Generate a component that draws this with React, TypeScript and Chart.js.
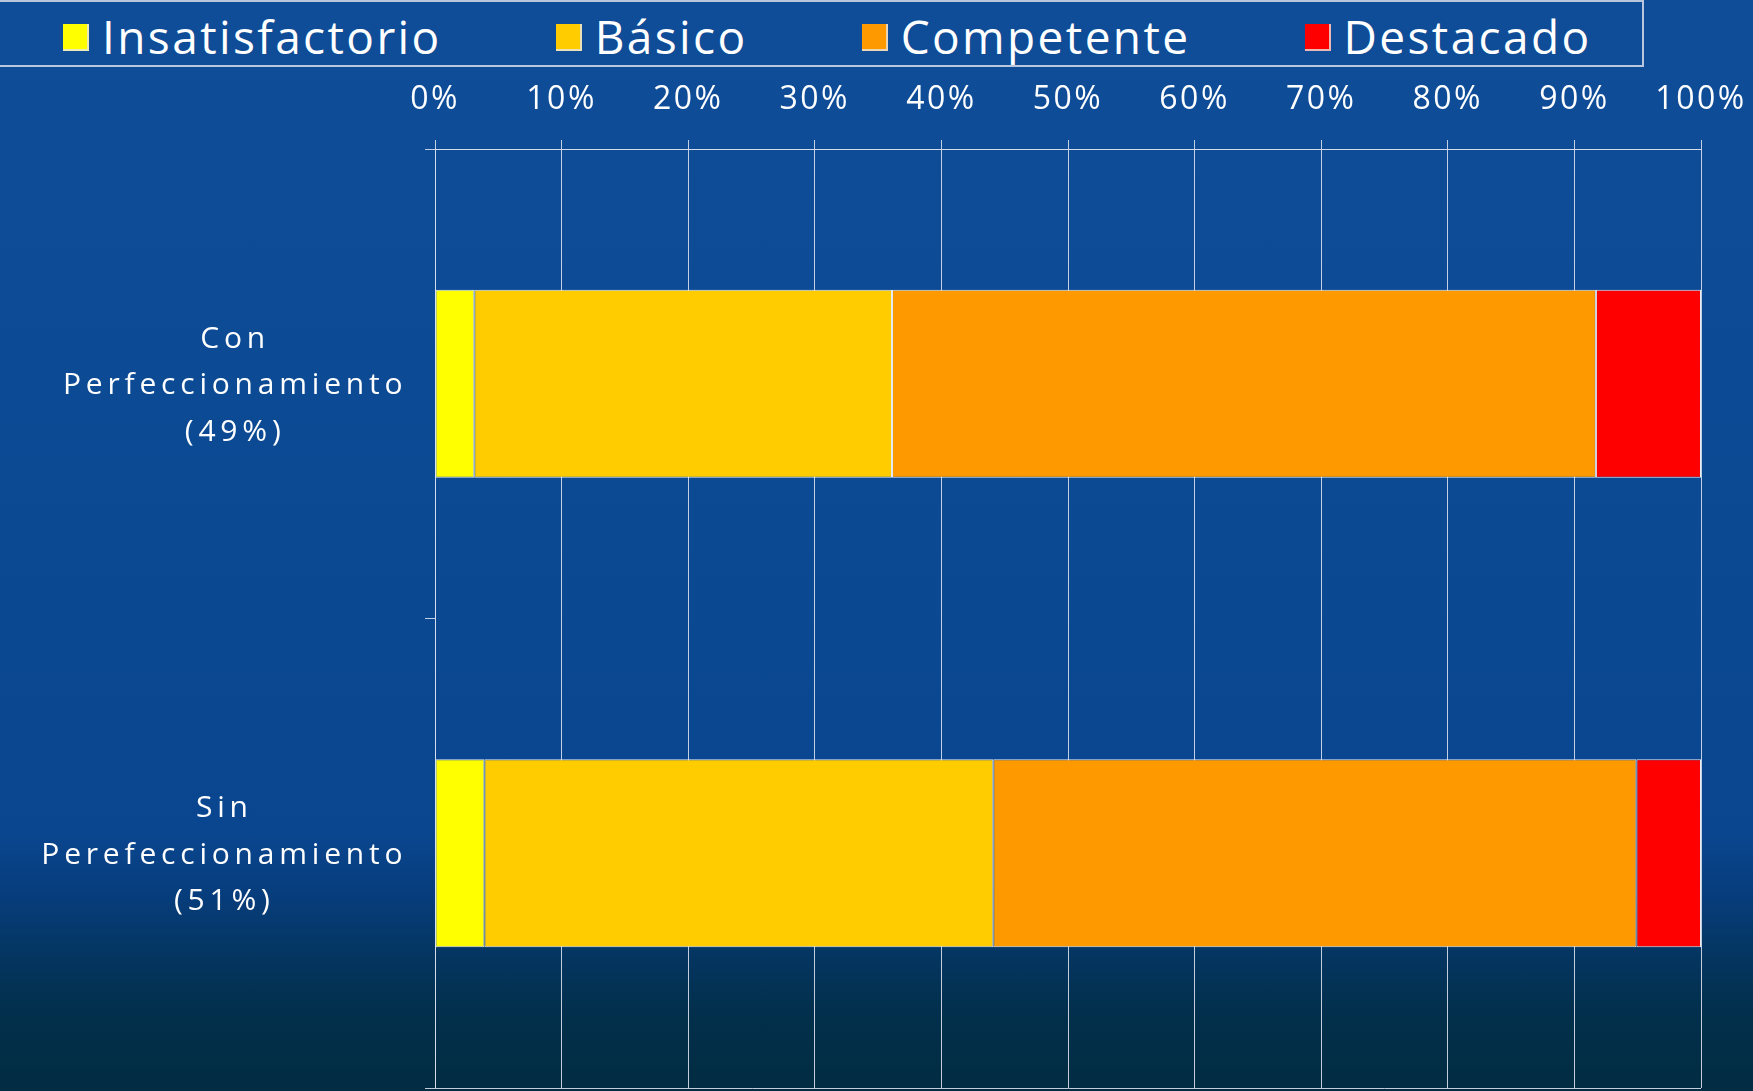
import React, { useEffect, useRef } from "react";
import { Chart, registerables } from "chart.js";

Chart.register(...registerables);

const categories: string[][] = [
  ["Con", "Perfeccionamiento", "(49%)"],
  ["Sin", "Perefeccionamiento", "(51%)"],
];
const seriesNames = ["Insatisfactorio", "Básico", "Competente", "Destacado"];
const insatisfactorio = [3.1, 3.9];
const basico = [33.0, 40.2];
const competente = [55.6, 50.8];
const destacado = [8.3, 5.1];
const seriesColors = ["#FFFF00", "#FFCC00", "#FF9900", "#FF0000"];
const xTicks = [0, 10, 20, 30, 40, 50, 60, 70, 80, 90, 100];

const W = 1753;
const H = 1091;
const FONT = '"Open Sans", "Noto Sans", sans-serif';
const GRID = "rgba(215,222,235,0.9)";

const yLabelPlugin = {
  id: "yLabels",
  beforeDraw(chart: any) {
    chart.ctx.letterSpacing = "2.5px";
  },
  afterDraw(chart: any) {
    const ctx = chart.ctx;
    const yScale = chart.scales.y;
    ctx.save();
    ctx.font = `30px ${FONT}`;
    ctx.letterSpacing = "4.8px";
    ctx.fillStyle = "#ffffff";
    ctx.textAlign = "center";
    ctx.textBaseline = "middle";
    const lineH = 46.5;
    const rightEdge = chart.chartArea.left - 30;
    (chart.data.labels as string[][]).forEach((lines, i) => {
      const widest = Math.max(...lines.map((l) => ctx.measureText(l).width));
      const cx = rightEdge - widest / 2 + 2.4;
      const y0 = yScale.getPixelForValue(i) + 2;
      lines.forEach((line, j) => {
        ctx.fillText(line, cx, y0 + (j - (lines.length - 1) / 2) * lineH);
      });
    });
    ctx.restore();
    ctx.letterSpacing = "0px";
  },
};

export default function App() {
  const ref = useRef<HTMLCanvasElement | null>(null);

  useEffect(() => {
    document.body.style.margin = "0";
    if (!ref.current) return;
    const values = [insatisfactorio, basico, competente, destacado];
    const chart = new Chart(ref.current, {
      type: "bar",
      data: {
        labels: categories as any,
        datasets: seriesNames.map((name, k) => ({
          label: name,
          data: values[k],
          backgroundColor: seriesColors[k],
          borderColor: "rgba(255,255,255,0.9)",
          borderWidth: 1,
          borderSkipped: false,
          barPercentage: 1,
          categoryPercentage: 0.4,
        })),
      },
      options: {
        indexAxis: "y",
        responsive: false,
        animation: false,
        devicePixelRatio: 1,
        layout: { padding: { left: 0, right: 52, top: 0, bottom: 3 } },
        plugins: {
          legend: { display: false },
          tooltip: { enabled: false },
        },
        scales: {
          x: {
            position: "top",
            stacked: true,
            min: 0,
            max: 100,
            afterBuildTicks: (scale: any) => {
              scale.ticks = xTicks.map((v) => ({ value: v }));
            },
            afterFit: (scale: any) => {
              scale.height = 149;
              scale.paddingLeft = 0;
              scale.paddingRight = 0;
            },
            ticks: {
              color: "#ffffff",
              font: { family: FONT, size: 32 },
              padding: 21,
              maxRotation: 0,
              autoSkip: false,
              callback: (v: any) => `${v}%`,
            },
            grid: {
              color: GRID,
              lineWidth: 1,
              tickLength: 9,
              drawTicks: true,
            },
            border: { display: true, color: GRID, width: 1 },
          },
          y: {
            stacked: true,
            afterFit: (scale: any) => {
              scale.width = 435;
              scale.paddingTop = 0;
              scale.paddingBottom = 0;
            },
            ticks: { display: false },
            grid: {
              offset: true,
              drawOnChartArea: true,
              color: (c: any) => (c.index === 1 ? "rgba(0,0,0,0)" : GRID),
              tickColor: GRID,
              tickLength: 10,
              lineWidth: 1,
            },
            border: { display: true, color: GRID, width: 1 },
          },
        },
      },
      plugins: [yLabelPlugin],
    });
    return () => chart.destroy();
  }, []);

  return (
    <div
      style={{
        position: "fixed",
        left: 0,
        top: 0,
        width: W,
        height: H,
        overflow: "hidden",
        background:
          "linear-gradient(to bottom, #0f4d98 0%, #0c4993 50%, #0a4690 76%, #073d7c 82%, #04355f 88%, #022f4b 93%, #012c42 100%)",
        fontFamily: FONT,
      }}
    >
      <div
        style={{
          position: "absolute",
          left: -2,
          top: 0,
          width: 1646,
          height: 67,
          border: "2px solid rgba(205,212,228,0.9)",
          boxSizing: "border-box",
          display: "flex",
          alignItems: "center",
          paddingLeft: 63,
          paddingTop: 4,
          gap: 114,
        }}
      >
        {seriesNames.map((name, k) => (
          <div key={name} style={{ display: "flex", alignItems: "center", gap: 13 }}>
            <div
              style={{
                width: 26,
                height: 27,
                background: seriesColors[k],
                boxSizing: "border-box",
                borderRight: "2px solid rgba(230,230,230,0.8)",
                borderBottom: "2px solid rgba(230,230,230,0.8)",
                marginTop: 3,
              }}
            />
            <span
              style={{
                color: "#ffffff",
                fontSize: 46,
                lineHeight: 1,
                letterSpacing: 2.4,
                whiteSpace: "nowrap",
              }}
            >
              {name}
            </span>
          </div>
        ))}
      </div>
      <canvas
        ref={ref}
        width={W}
        height={H}
        style={{ position: "absolute", left: 0, top: 0, width: W, height: H }}
      />
    </div>
  );
}
